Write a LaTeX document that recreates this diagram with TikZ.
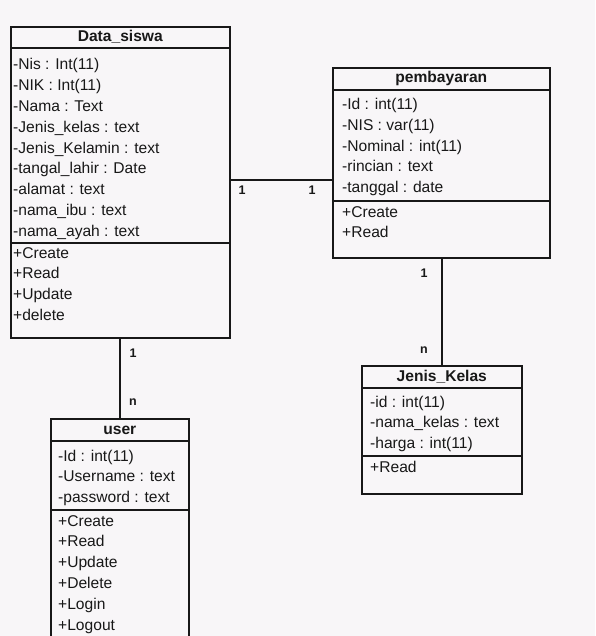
\documentclass[tikz,border=0pt]{standalone}
\usepackage{fontspec}
\setmainfont{Liberation Sans}
\usepackage{tikz}

\definecolor{bg}{RGB}{248,246,248}
\definecolor{ink}{RGB}{24,24,24}

\begin{document}
\begin{tikzpicture}[x=1pt,y=-1pt,
    cls/.style={draw=ink,line width=1.6pt,fill=bg,anchor=north west,inner sep=0pt},
    sep/.style={draw=ink,line width=1.6pt},
    title/.style={font=\bfseries\fontsize{15.6}{18}\selectfont,text=ink,inner sep=0pt,anchor=base},
    row/.style={font=\fontsize{15.6}{18}\selectfont,text=ink,inner sep=0pt,anchor=base west},
    mult/.style={font=\bfseries\fontsize{12.5}{14}\selectfont,text=ink,inner sep=0pt}]
    \useasboundingbox[fill=bg] (0,0) rectangle (595,636);
    \clip (0,0) rectangle (595,636);
    % classes
    \node[cls,minimum width=219pt,minimum height=311pt] (ds) at (10,26) {};
    \node[cls,minimum width=217pt,minimum height=190pt] (pb) at (332,67) {};
    \node[cls,minimum width=160pt,minimum height=128pt] (jk) at (361,365) {};
    \node[cls,minimum width=138pt,minimum height=240pt] (usr) at (50,418) {};
    % separators
    \foreach \c/\a/\b in {ds/22/217,pb/23/134,jk/23/91,usr/23/92}{
    \draw[sep] ([yshift=-\a pt]\c.north west)--([yshift=-\a pt]\c.north east);
    \draw[sep] ([yshift=-\b pt]\c.north west)--([yshift=-\b pt]\c.north east);}
    % titles
    \node[title] (ds-t) at ([yshift=-16pt]ds.north) {Data\_siswa};
    \node[title] (pb-t) at ([yshift=-16pt]pb.north) {pembayaran};
    \node[title] (jk-t) at ([yshift=-16pt]jk.north) {Jenis\_Kelas};
    \node[title] (usr-t) at ([yshift=-16pt]usr.north) {user};
    % Data_siswa
    \foreach \t [count=\i from 0] in {-Nis : Int(11),-NIK : Int(11),-Nama : Text,-Jenis\_kelas : text,
    -Jenis\_Kelamin : text,-tangal\_lahir : Date,-alamat : text,-nama\_ibu : text,-nama\_ayah : text}
    \node[row] (ds-a\i) at ([xshift=3pt,yshift={-44pt-\i*20.8pt}]ds.north west) {\t};
    \foreach \t [count=\i from 0] in {+Create,+Read,+Update,+delete}
    \node[row] (ds-m\i) at ([xshift=3pt,yshift={-232pt-\i*20.8pt}]ds.north west) {\t};
    % pembayaran
    \foreach \t [count=\i from 0] in {-Id : int(11),-NIS : var(11),-Nominal : int(11),-rincian : text,-tanggal : date}
    \node[row] (pb-a\i) at ([xshift=10pt,yshift={-43pt-\i*20.6pt}]pb.north west) {\t};
    \foreach \t [count=\i from 0] in {+Create,+Read}
    \node[row] (pb-m\i) at ([xshift=10pt,yshift={-150pt-\i*20pt}]pb.north west) {\t};
    % Jenis_Kelas
    \foreach \t [count=\i from 0] in {-id : int(11),-nama\_kelas : text,-harga : int(11)}
    \node[row] (jk-a\i) at ([xshift=9pt,yshift={-42pt-\i*20.8pt}]jk.north west) {\t};
    \node[row] (jk-m0) at ([xshift=9pt,yshift=-107pt]jk.north west) {+Read};
    % user
    \foreach \t [count=\i from 0] in {-Id : int(11),-Username : text,-password : text}
    \node[row] (usr-a\i) at ([xshift=8pt,yshift={-43pt-\i*20.5pt}]usr.north west) {\t};
    \foreach \t [count=\i from 0] in {+Create,+Read,+Update,+Delete,+Login,+Logout}
    \node[row] (usr-m\i) at ([xshift=8pt,yshift={-108pt-\i*20.8pt}]usr.north west) {\t};
    % relations
    \draw[sep] ([yshift=2.5pt]ds.east)--([yshift=2.5pt]ds.east -| pb.west);
    \draw[sep] (usr.north)--(usr.north |- ds.south);
    \draw[sep] (jk.north)--(jk.north |- pb.south);
    \node[mult] (m1) at (242,190) {1};
    \node[mult] (m2) at (312,190) {1};
    \node[mult] (m3) at (424,273) {1};
    \node[mult] (m4) at (424,350) {n};
    \node[mult] (m5) at (133,353) {1};
    \node[mult] (m6) at (133,402) {n};
\end{tikzpicture}
\end{document}
